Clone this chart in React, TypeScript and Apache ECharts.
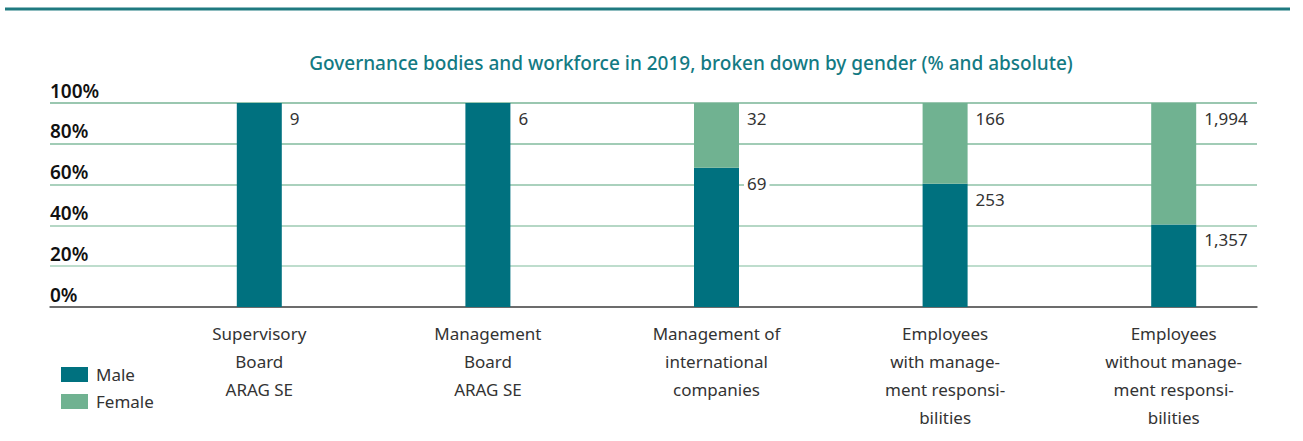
import React, { useEffect, useRef } from "react";
import * as echarts from "echarts";

const categories = [
  "Supervisory\nBoard\nARAG SE",
  "Management\nBoard\nARAG SE",
  "Management of\ninternational\ncompanies",
  "Employees\nwith manage-\nment responsi-\nbilities",
  "Employees\nwithout manage-\nment responsi-\nbilities",
];
const maleCounts = [9, 6, 69, 253, 1357];
const femaleCounts = [0, 0, 32, 166, 1994];
const yTicks = [0, 20, 40, 60, 80, 100];

const MALE = "#00717F";
const FEMALE = "#70B291";
const FONT = "'Noto Sans', 'Open Sans', sans-serif";

const fmt = (n: number) => n.toLocaleString("en-US");

export default function App() {
  const ref = useRef<HTMLDivElement>(null);
  useEffect(() => {
    document.body.style.margin = "0";
    const chart = echarts.init(ref.current!, null, { renderer: "svg" });
    const totals = maleCounts.map((m, i) => m + femaleCounts[i]);
    const malePct = maleCounts.map((m, i) => (m / totals[i]) * 100);
    const femalePct = femaleCounts.map((f, i) => (f / totals[i]) * 100);
    const labelCommon = {
      show: true,
      position: ["100%", 0] as any,
      offset: [5, 6],
      align: "left",
      verticalAlign: "top",
      color: "#333",
      fontFamily: FONT,
      fontSize: 17,
      backgroundColor: "#fff",
      padding: [1, 3, 1, 3],
    };
    chart.setOption({
      animation: false,
      textStyle: { fontFamily: FONT },
      title: {
        text: "Governance bodies and workforce in 2019, broken down by gender (% and absolute)",
        left: 686,
        top: 48,
        textAlign: "center",
        textStyle: { color: "#137A83", fontSize: 19, fontWeight: 500, fontFamily: FONT },
      },
      graphic: [
        {
          type: "line",
          shape: { x1: 5, y1: 9, x2: 1290, y2: 9 },
          style: { stroke: "#1F7A80", lineWidth: 3 },
        },
      ],
      legend: {
        orient: "vertical",
        left: 56,
        top: 361,
        itemWidth: 27,
        itemHeight: 15,
        itemGap: 10,
        icon: "rect",
        textStyle: { color: "#333", fontSize: 17, fontFamily: FONT, padding: [0, 0, 0, 3] },
        data: ["Male", "Female"],
      },
      grid: [
        { left: 145, right: 15, top: 103, bottom: 134 },
        { left: 50, right: 46, top: 103, bottom: 134 },
      ],
      xAxis: [
        {
          type: "category",
          gridIndex: 0,
          data: categories,
          axisLine: { show: false },
          axisTick: { show: false },
          axisLabel: {
            margin: 12,
            color: "#333",
            fontSize: 17,
            lineHeight: 28,
            fontFamily: FONT,
            interval: 0,
          },
        },
        {
          type: "value",
          gridIndex: 1,
          min: 0,
          max: 1,
          axisLine: { show: true, lineStyle: { color: "#555", width: 1.5 } },
          axisTick: { show: false },
          axisLabel: { show: false },
          splitLine: { show: false },
        },
      ],
      yAxis: [
        {
          type: "value",
          gridIndex: 0,
          min: 0,
          max: 100,
          show: false,
          splitLine: { show: false },
        },
        {
          type: "value",
          gridIndex: 1,
          min: 0,
          max: 100,
          interval: 20,
          axisLine: { show: false },
          axisTick: { show: false },
          axisLabel: {
            inside: true,
            margin: 0,
            align: "left",
            verticalAlign: "bottom",
            padding: [0, 0, 3, 0],
            color: "#111",
            fontWeight: 600,
            fontSize: 19,
            fontFamily: FONT,
            formatter: (v: number) => (yTicks.includes(v) ? v + "%" : ""),
          },
          splitLine: {
            show: true,
            lineStyle: {
              color: ["#999", "#A8D2BD", "#9CCAB2", "#8EC2A7", "#82BB9E", "#78B596"],
              width: 1.5,
            },
          },
        },
      ],
      series: [
        {
          name: "Male",
          type: "bar",
          stack: "g",
          xAxisIndex: 0,
          yAxisIndex: 0,
          barWidth: 45,
          itemStyle: { color: MALE },
          data: malePct,
          label: { ...labelCommon, formatter: (p: any) => fmt(maleCounts[p.dataIndex]) },
        },
        {
          name: "Female",
          type: "bar",
          stack: "g",
          xAxisIndex: 0,
          yAxisIndex: 0,
          barWidth: 45,
          itemStyle: { color: FEMALE },
          data: femalePct,
          label: {
            ...labelCommon,
            formatter: (p: any) => (femaleCounts[p.dataIndex] ? fmt(femaleCounts[p.dataIndex]) : ""),
          },
        },
      ],
    });
    return () => chart.dispose();
  }, []);
  return <div ref={ref} style={{ width: 1303, height: 441 }} />;
}
